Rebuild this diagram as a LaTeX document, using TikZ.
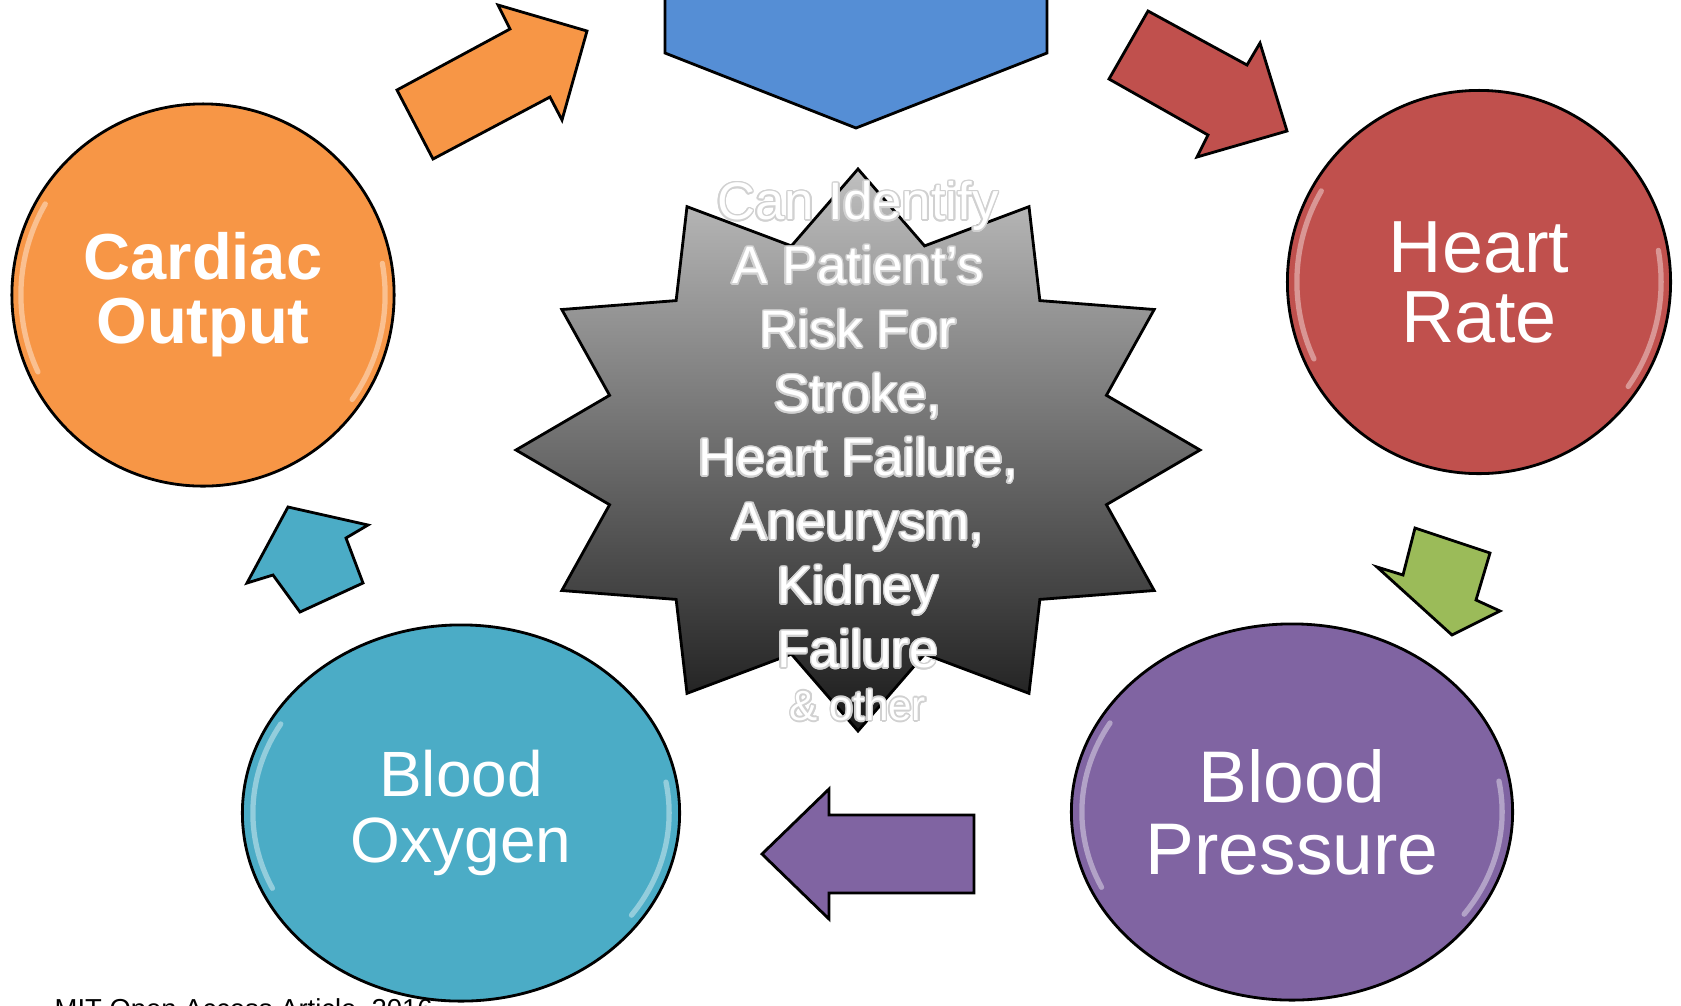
\documentclass[tikz,border=0pt]{standalone}
\usepackage{fontspec}
\setmainfont{Liberation Sans}
\usepackage{contour}
\contourlength{0.45pt}
\usetikzlibrary{shapes.geometric}

\definecolor{coorange}{HTML}{F79646}
\definecolor{cored}{HTML}{C0504D}
\definecolor{copurple}{HTML}{8064A2}
\definecolor{coteal}{HTML}{4BACC6}
\definecolor{cogreen}{HTML}{9BBB59}
\definecolor{coblue}{HTML}{558ED5}

\newcommand{\glow}[1]{\contour{black!18}{#1}}

\begin{document}
\begin{tikzpicture}[x=0.01cm, y=-0.01cm,
    bubble/.style={ellipse, draw=black, line width=0.8pt, text=white, align=center, inner sep=0pt},
    blockarrow/.style={draw=black, line width=0.8pt, line join=miter},
    gloss/.style={white, opacity=0.4, line width=1.5pt, line cap=round}]
  \useasboundingbox (0,0) rectangle (1681,1005);
  \clip (0,0) rectangle (1681,1005);

  % top block
  \filldraw[blockarrow, fill=coblue] (665,-10) -- (665,53) -- (856,128) -- (1047,53) -- (1047,-10) -- cycle;

  % arrows round the cycle
  \filldraw[blockarrow, fill=coorange] (433,159) -- (397,90) -- (510,29) -- (498,5) -- (587,31) -- (562,120) -- (550,97) -- cycle;
  \filldraw[blockarrow, fill=cored] (1148,11) -- (1247,65) -- (1260,43) -- (1287,131) -- (1197,157) -- (1208,135) -- (1109,79) -- cycle;
  \filldraw[blockarrow, fill=cogreen] (1415,528) -- (1490,553) -- (1476,600) -- (1500,611) -- (1452,635) -- (1377,567) -- (1403,575) -- cycle;
  \filldraw[blockarrow, fill=copurple] (762,854) -- (829,789) -- (829,815) -- (974,815) -- (974,893) -- (829,893) -- (829,919) -- cycle;
  \filldraw[blockarrow, fill=coteal] (288,507) -- (368,525) -- (346,538) -- (363,583) -- (300,612) -- (273,575) -- (247,583) -- cycle;

  % circles
  \node[bubble, fill=coorange, minimum width=3.82cm, minimum height=3.82cm,
        font=\fontsize{18.5}{18.2}\selectfont\bfseries] (cardiac) at (203,295) {Cardiac\\Output};
  \node[bubble, fill=cored, minimum width=3.83cm, minimum height=3.83cm,
        font=\fontsize{21}{19.9}\selectfont] (heartrate) at (1479,282) {Heart\\Rate};
  \node[bubble, fill=copurple, minimum width=4.41cm, minimum height=3.76cm,
        font=\fontsize{20.8}{20.5}\selectfont] (pressure) at (1292,812) {Blood\\Pressure};
  \node[bubble, fill=coteal, minimum width=4.37cm, minimum height=3.76cm,
        font=\fontsize{18.2}{18.8}\selectfont] (oxygen) at (461,813) {Blood\\Oxygen};

  \foreach \n/\rx/\ry in {cardiac/1.82/1.82, heartrate/1.82/1.82, pressure/2.10/1.78, oxygen/2.08/1.78} {
    \draw[gloss] (\n.center) ++(150:\rx cm and \ry cm) arc (150:205:\rx cm and \ry cm);
    \draw[gloss] (\n.center) ++(-35:\rx cm and \ry cm) arc (-35:10:\rx cm and \ry cm);
  }

  % star in the middle
  \shadedraw[top color=black!25, bottom color=black!90, draw=black, line width=0.8pt]
    plot[samples at={0,...,23}, variable=\k]
      ({858+342*(mod(\k,2)==0 ? 1 : 0.752)*cos(90+15*\k)}, {450-281*(mod(\k,2)==0 ? 1 : 0.752)*sin(90+15*\k)}) -- cycle;
  \node[text=white, align=center, inner sep=0pt, font=\fontsize{15}{18.2}\selectfont] (risk) at (858,452)
    {\glow{Can Identify}\\\glow{A Patient’s}\\\glow{Risk For}\\\glow{Stroke,}\\\glow{Heart Failure,}\\\glow{Aneurysm,}\\\glow{Kidney}\\\glow{Failure}\\[-3.2pt]{\fontsize{12}{14}\selectfont\glow{\& other}}};

  \node[anchor=north west, inner sep=0pt, font=\fontsize{7.8}{9}\selectfont] (source) at (54,998) {MIT Open Access Article, 2016};
\end{tikzpicture}
\end{document}
